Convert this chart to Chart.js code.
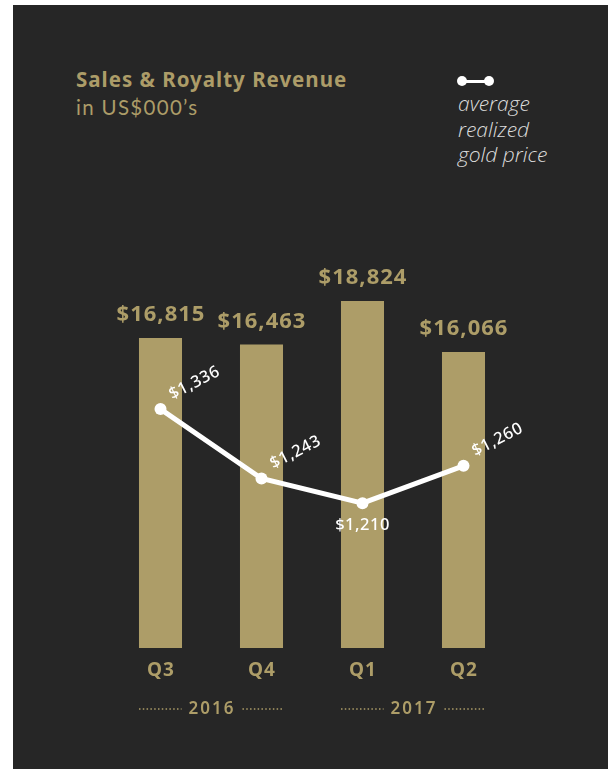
<!DOCTYPE html>
<html lang="en">
<head>
    <meta charset="UTF-8">
    <title>Sales & Royalty Revenue</title>
    <script src="https://cdn.jsdelivr.net/npm/chart.js"></script>
    <style>
        body { margin: 0; background: #fff; }
        #wrap { position: relative; width: 611px; height: 769px; overflow: hidden; }
        #panel { position: absolute; left: 13px; top: 5px; width: 595px; height: 764px; background: #262626; }
        #myChart { position: absolute; left: 0; top: 0; }
        .title { position: absolute; left: 76px; top: 65px; font: 700 20.5px "Noto Sans", sans-serif; color: #ac9c68; letter-spacing: 1px; white-space: nowrap; }
        .sub { position: absolute; left: 76px; top: 95px; font: 400 20.5px "Lato", "Open Sans", sans-serif; color: #ac9c68; letter-spacing: 1.3px; white-space: nowrap; }
        .legend-icon { position: absolute; left: 457px; top: 76px; width: 37px; height: 10px; }
        .legend-icon .ln { position: absolute; left: 5px; right: 5px; top: 3.5px; height: 3px; background: #fff; }
        .legend-icon .dot { position: absolute; top: 0; width: 10px; height: 10px; border-radius: 50%; background: #fff; }
        .legend-text { position: absolute; left: 458px; top: 91px; font: italic 300 21px "Open Sans", sans-serif; line-height: 25.5px; color: #dcdcdc; }
    </style>
</head>
<body>
<div id="wrap">
    <div id="panel"></div>
    <div class="title">Sales &amp; Royalty Revenue</div>
    <div class="sub">in US$000’s</div>
    <div class="legend-icon"><div class="ln"></div><div class="dot" style="left:0"></div><div class="dot" style="right:0"></div></div>
    <div class="legend-text">average<br>realized<br>gold price</div>
    <canvas id="myChart" width="611" height="769"></canvas>
</div>
<script>
    const quarters = ['Q3', 'Q4', 'Q1', 'Q2'];
    const revenue = [16815, 16463, 18824, 16066];
    const goldPrice = [1336, 1243, 1210, 1260];
    const years = ['2016', '2017'];
    const yearSpans = [[0, 1], [2, 3]];
    const priceLabelPlace = ['above', 'above', 'below', 'above'];

    const GOLD = '#ad9d68';

    function money(v) {
        return '$' + v.toLocaleString('en-US');
    }

    const overlay = {
        id: 'overlay',
        afterDatasetsDraw(chart) {
            const ctx = chart.ctx;
            const area = chart.chartArea;
            const bars = chart.getDatasetMeta(0).data;
            const pts = chart.getDatasetMeta(1).data;
            ctx.save();
            ctx.textAlign = 'center';
            ctx.textBaseline = 'middle';

            // values over the bars
            ctx.fillStyle = GOLD;
            ctx.font = '700 22px "Noto Sans", sans-serif';
            ctx.letterSpacing = '1px';
            bars.forEach((b, i) => ctx.fillText(money(revenue[i]), b.x + 0.5, b.y - 23));

            // quarter labels
            ctx.font = '700 19px "Noto Sans", sans-serif';
            ctx.letterSpacing = '1px';
            bars.forEach((b, i) => ctx.fillText(quarters[i], b.x + 0.5, area.bottom + 23));

            // year labels with dotted rules
            ctx.font = '600 17px "Noto Sans", sans-serif';
            ctx.letterSpacing = '2px';
            ctx.strokeStyle = GOLD;
            ctx.lineWidth = 1.5;
            ctx.setLineDash([1.5, 2.3]);
            yearSpans.forEach((span, i) => {
                const a = bars[span[0]], b = bars[span[1]];
                const cx = (a.x + b.x) / 2;
                const y = area.bottom + 61;
                const tw = ctx.measureText(years[i]).width;
                ctx.fillText(years[i], cx + 1, y);
                const left = a.x - a.width / 2, right = b.x + b.width / 2;
                ctx.beginPath();
                ctx.moveTo(left, y);
                ctx.lineTo(cx - tw / 2 - 6, y);
                ctx.moveTo(cx + tw / 2 + 8, y);
                ctx.lineTo(right, y);
                ctx.stroke();
            });
            ctx.setLineDash([]);

            // gold price labels
            ctx.fillStyle = '#fff';
            ctx.font = '500 16.5px "Noto Sans", sans-serif';
            ctx.letterSpacing = '0.5px';
            pts.forEach((p, i) => {
                const txt = money(goldPrice[i]);
                if (priceLabelPlace[i] === 'below') {
                    ctx.fillText(txt, p.x, p.y + 22);
                } else {
                    ctx.save();
                    ctx.translate(p.x + 34, p.y - 26);
                    ctx.rotate(-27 * Math.PI / 180);
                    ctx.fillText(txt, 0, 0);
                    ctx.restore();
                }
            });
            ctx.restore();
        }
    };

    const ctx = document.getElementById('myChart').getContext('2d');
    const chart = new Chart(ctx, {
        type: 'bar',
        data: {
            labels: quarters,
            datasets: [{
                label: 'Sales & Royalty Revenue',
                data: revenue,
                backgroundColor: GOLD,
                barPercentage: 0.426,
                categoryPercentage: 1,
                yAxisID: 'y',
                order: 1
            }, {
                type: 'line',
                label: 'average realized gold price',
                data: goldPrice,
                borderColor: '#fff',
                borderWidth: 5,
                pointRadius: 6,
                pointBackgroundColor: '#fff',
                pointBorderWidth: 0,
                tension: 0,
                yAxisID: 'y2',
                order: 0
            }]
        },
        options: {
            responsive: false,
            animation: false,
            layout: { padding: { left: 110, right: 97, top: 200, bottom: 121 } },
            plugins: { legend: { display: false }, tooltip: { enabled: false } },
            scales: {
                x: { display: false },
                y: { display: false, min: 0, max: 24308 },
                y2: { display: false, min: 1016, max: 1616 }
            }
        },
        plugins: [overlay]
    });
</script>
</body>
</html>
